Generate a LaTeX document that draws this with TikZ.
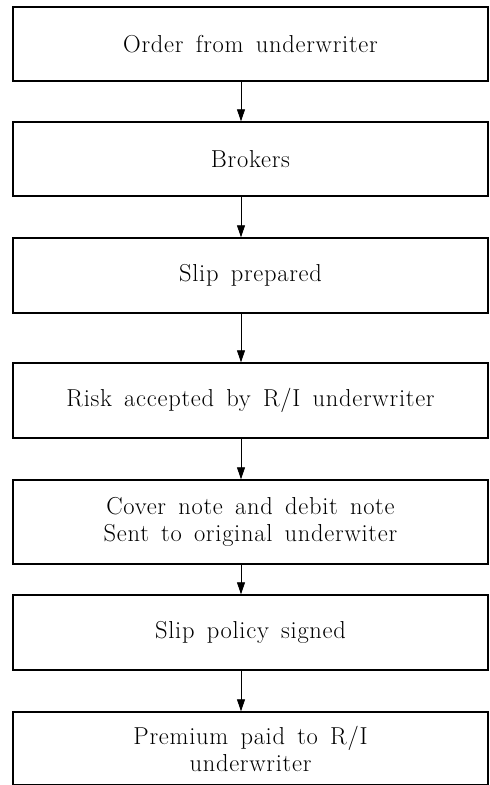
\documentclass[tikz,border=0pt]{standalone}
\usepackage{fontspec}
\setmainfont{Latin Modern Roman}[LetterSpace=3,WordSpace=1.5]
\usetikzlibrary{positioning,arrows.meta}

\begin{document}
\begin{tikzpicture}[x=1pt,y=-1pt,>={Triangle[width=8pt,length=12pt]}]
	\tikzstyle{every node} = [draw,shape=rectangle,line width=1.4pt,minimum width=475pt,minimum height=75pt,align=center,font=\fontsize{24.5}{27}\selectfont]
	\tikzstyle{link} = [->,line width=0.8pt]
	\useasboundingbox (0,0) rectangle (490,785);

	\node (Order) at (250.5,44) [minimum height=74pt] {Order from underwriter};
	\node (Brokers) at (250.5,159) [minimum height=74pt] {Brokers};
	\node (Slip) at (250.5,275.5) {Slip prepared};
	\node (Risk) at (250.5,400.5) {Risk accepted by R/I underwriter};
	\node (Cover) at (250.5,522) [minimum height=84pt] {Cover note and debit note\\Sent to original underwiter};
	\node (Policy) at (250.5,632.5) {Slip policy signed};
	\node (Premium) at (250.5,748.5) [minimum height=73pt] {Premium paid to R/I\\underwriter};

	\draw [link] ([xshift=-9.5pt]Order.south) -- ([xshift=-9.5pt]Brokers.north);
	\draw [link] ([xshift=-9.5pt]Brokers.south) -- ([xshift=-9.5pt]Slip.north);
	\draw [link] ([xshift=-9.5pt]Slip.south) -- ([xshift=-9.5pt]Risk.north);
	\draw [link] ([xshift=-9.5pt]Risk.south) -- ([xshift=-9.5pt]Cover.north);
	\draw [link] ([xshift=-9.5pt]Cover.south) -- ([xshift=-9.5pt]Policy.north);
	\draw [link] ([xshift=-9.5pt]Policy.south) -- ([xshift=-9.5pt]Premium.north);

\end{tikzpicture}
\end{document}
